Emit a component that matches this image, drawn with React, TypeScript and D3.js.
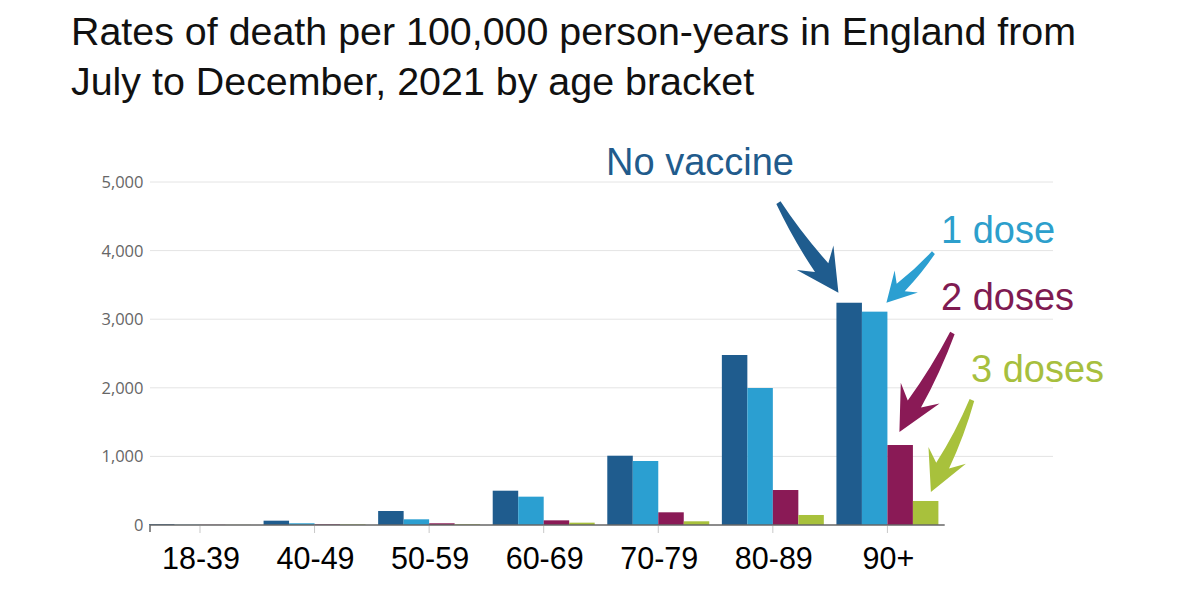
import React from "react";
import * as d3 from "d3";

const categories = ["18-39", "40-49", "50-59", "60-69", "70-79", "80-89", "90+"];
const seriesKeys = ["noVaccine", "oneDose", "twoDoses", "threeDoses"];
const seriesLabels = ["No vaccine", "1 dose", "2 doses", "3 doses"];
const noVaccine = [12, 63, 204, 500, 1010, 2478, 3240];
const oneDose = [4, 25, 83, 413, 933, 1997, 3110];
const twoDoses = [3, 10, 25, 68, 185, 510, 1166];
const threeDoses = [2, 8, 10, 34, 54, 146, 350];
const yTicks = [0, 1000, 2000, 3000, 4000, 5000];
const titleLines = [
  "Rates of death per 100,000 person-years in England from",
  "July to December, 2021 by age bracket",
];

const barColors = ["#1f5c8e", "#2b9fd1", "#8a1a56", "#a8c13c"];
const textColors = ["#215b8c", "#2d9fcc", "#7f1b52", "#a7bf3e"];

const W = 1200;
const H = 600;

type Pt = [number, number];

function arrowPath(tip: Pt, tail: Pt, L: number, Hh: number, w0: number, w1: number, bend: number) {
  const dx = tip[0] - tail[0];
  const dy = tip[1] - tail[1];
  const len = Math.hypot(dx, dy);
  const u: Pt = [dx / len, dy / len];
  const n: Pt = [-u[1], u[0]];
  const at = (base: Pt, along: number, side: number): Pt => [
    base[0] + u[0] * along + n[0] * side,
    base[1] + u[1] * along + n[1] * side,
  ];
  const barbA = at(tip, -L, Hh);
  const barbB = at(tip, -L, -Hh);
  const joinA = at(tip, -L * 0.72, w1 / 2);
  const joinB = at(tip, -L * 0.72, -w1 / 2);
  const tailA = at(tail, 0, w0 / 2);
  const tailB = at(tail, 0, -w0 / 2);
  const midLen = (len - L * 0.72) / 2;
  const cA = at(tail, midLen, bend + (w0 + w1) / 4);
  const cB = at(tail, midLen, bend - (w0 + w1) / 4);
  const p = d3.path();
  p.moveTo(tailA[0], tailA[1]);
  p.quadraticCurveTo(cA[0], cA[1], joinA[0], joinA[1]);
  p.lineTo(barbA[0], barbA[1]);
  p.lineTo(tip[0], tip[1]);
  p.lineTo(barbB[0], barbB[1]);
  p.lineTo(joinB[0], joinB[1]);
  p.quadraticCurveTo(cB[0], cB[1], tailB[0], tailB[1]);
  p.closePath();
  return p.toString();
}

export default function App() {
  const values = [noVaccine, oneDose, twoDoses, threeDoses];
  const x = d3
    .scaleBand<string>()
    .domain(categories)
    .range([142.7, 944.7])
    .paddingInner(0.11)
    .paddingOuter(0.055);
  const xs = d3.scaleBand<string>().domain(seriesKeys).range([0, x.bandwidth()]).padding(0);
  const y = d3.scaleLinear().domain([0, 5000]).range([525, 182]);
  const axisLeft = 150;
  const gridRight = 1053;
  const axisRight = x.range()[1];
  const fmt = d3.format(",");

  const last = categories[categories.length - 1];
  const li = categories.length - 1;
  const bx = (s: number) => (x(last) as number) + (xs(seriesKeys[s]) as number);
  const bw = xs.bandwidth();

  // arrow anchors relative to the 90+ bars
  const arrows = [
    { tip: [bx(0) + 2, y(values[0][li]) - 10] as Pt, off: [-60, -90], L: 42, H: 22, w0: 5, w1: 16, bend: 3 },
    { tip: [bx(1) + bw - 1, y(values[1][li]) - 9] as Pt, off: [47, -50], L: 29, H: 16, w0: 4, w1: 11, bend: -2 },
    { tip: [bx(2) + 12, y(values[2][li]) - 13] as Pt, off: [53, -99], L: 44, H: 22, w0: 5, w1: 15, bend: -3 },
    { tip: [bx(3) + 18, y(values[3][li]) - 9] as Pt, off: [41, -92], L: 40, H: 20.5, w0: 5, w1: 14, bend: -3 },
  ];
  const labelPos: Pt[] = [
    [606, 175],
    [941, 243],
    [941, 310],
    [971, 382],
  ];

  return (
    <div style={{ position: "absolute", left: 0, top: 0 }}>
      <svg width={W} height={H} viewBox={`0 0 ${W} ${H}`} style={{ display: "block", background: "#fff" }}>
        <rect x={0} y={0} width={W} height={H} fill="#fff" />
        {titleLines.map((t, i) => (
          <text
            key={t}
            x={71}
            y={45 + i * 50}
            fontFamily="'Liberation Sans', Arial, sans-serif"
            fontSize={39.4}
            fill="#111"
          >
            {t}
          </text>
        ))}

        {/* gridlines */}
        {yTicks
          .filter((t) => t > 0)
          .map((t) => (
            <line key={t} x1={axisLeft} x2={gridRight} y1={y(t)} y2={y(t)} stroke="#e4e4e4" strokeWidth={1} />
          ))}

        {/* y tick labels */}
        {yTicks.map((t) => (
          <text
            key={"yl" + t}
            x={143.5}
            y={y(t)}
            dy="0.36em"
            textAnchor="end"
            fontFamily="'Open Sans', sans-serif"
            fontSize={16.5}
            fill="#666"
          >
            {fmt(t)}
          </text>
        ))}

        {/* bars */}
        {categories.map((c, ci) => (
          <g key={c} transform={`translate(${x(c)},0)`}>
            {seriesKeys.map((s, si) => (
              <rect
                key={s}
                x={xs(s)}
                y={y(values[si][ci])}
                width={bw}
                height={y(0) - y(values[si][ci])}
                fill={barColors[si]}
              />
            ))}
          </g>
        ))}

        {/* x axis */}
        <line x1={axisLeft} x2={axisRight} y1={y(0)} y2={y(0)} stroke="#666" strokeWidth={1.5} />
        <line x1={axisLeft} x2={axisLeft} y1={y(0)} y2={y(0) + 7} stroke="#666" strokeWidth={1.5} />
        {categories.map((c) => {
          const cx = (x(c) as number) + x.bandwidth() / 2;
          return (
            <line key={"t" + c} x1={cx} x2={cx} y1={y(0) + 1} y2={y(0) + 8} stroke="#c8c8c8" strokeWidth={1} />
          );
        })}
        {categories.map((c) => {
          const cx = (x(c) as number) + x.bandwidth() / 2 + 1;
          return (
            <text
              key={"xl" + c}
              x={cx}
              y={569}
              textAnchor="middle"
              fontFamily="'Liberation Sans', Arial, sans-serif"
              fontSize={30.5}
              fill="#000"
            >
              {c}
            </text>
          );
        })}

        {/* annotations */}
        {arrows.map((a, i) => (
          <path
            key={"a" + i}
            d={arrowPath(a.tip, [a.tip[0] + a.off[0], a.tip[1] + a.off[1]], a.L, a.H, a.w0, a.w1, a.bend)}
            fill={barColors[i]}
          />
        ))}
        {seriesLabels.map((l, i) => (
          <text
            key={l}
            x={labelPos[i][0]}
            y={labelPos[i][1]}
            fontFamily="'Liberation Sans', Arial, sans-serif"
            fontSize={38}
            fill={textColors[i]}
          >
            {l}
          </text>
        ))}
      </svg>
    </div>
  );
}
